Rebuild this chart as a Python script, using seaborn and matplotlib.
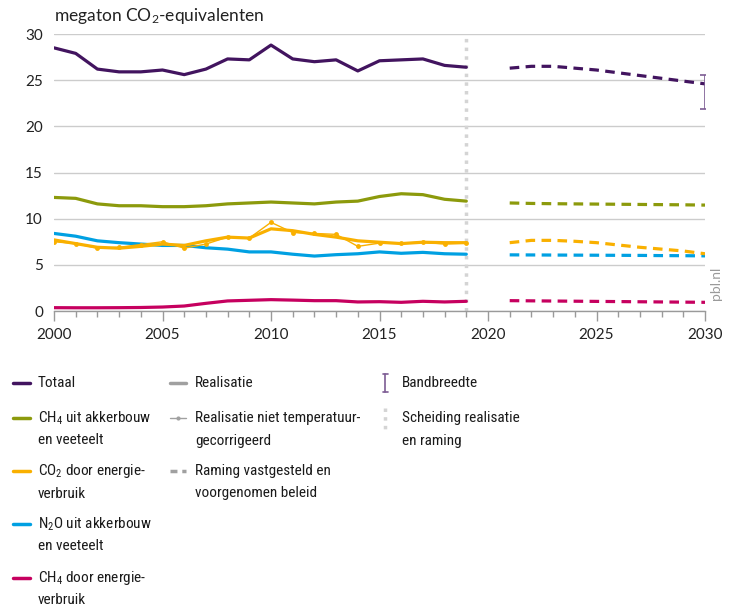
import matplotlib
matplotlib.use("Agg")
import matplotlib.pyplot as plt
import seaborn as sns
from matplotlib import font_manager
from matplotlib.lines import Line2D
from matplotlib.ticker import MultipleLocator

# ===============================
# Data (megaton CO2-equivalenten)
# ===============================
years_real = list(range(2000, 2020))
years_proj = list(range(2021, 2031))

totaal = [28.5, 27.9, 26.2, 25.9, 25.9, 26.1, 25.6, 26.2, 27.3, 27.2,
          28.8, 27.3, 27.0, 27.2, 26.0, 27.1, 27.2, 27.3, 26.6, 26.4]
totaal_proj = [26.3, 26.5, 26.5, 26.3, 26.1, 25.8, 25.5, 25.2, 24.9, 24.6]
band_low, band_high = 21.9, 25.6

ch4_akker = [12.3, 12.2, 11.6, 11.4, 11.4, 11.3, 11.3, 11.4, 11.6, 11.7,
             11.8, 11.7, 11.6, 11.8, 11.9, 12.4, 12.7, 12.6, 12.1, 11.9]
ch4_akker_proj = [11.7, 11.65, 11.62, 11.6, 11.58, 11.56, 11.54, 11.52, 11.5, 11.47]

co2_energie = [7.7, 7.3, 6.9, 6.8, 7.0, 7.25, 7.1, 7.6, 8.0, 7.9,
               8.9, 8.7, 8.3, 8.0, 7.6, 7.45, 7.3, 7.45, 7.4, 7.4]
co2_energie_niet_gecorr = [7.5, 7.3, 6.8, 6.9, 7.2, 7.5, 6.8, 7.25, 8.0, 7.9,
                           9.6, 8.5, 8.4, 8.3, 7.0, 7.35, 7.35, 7.45, 7.25, 7.35]
co2_energie_proj = [7.4, 7.65, 7.65, 7.55, 7.4, 7.15, 6.9, 6.7, 6.5, 6.2]

n2o_akker = [8.4, 8.1, 7.6, 7.4, 7.25, 7.1, 7.1, 6.85, 6.7, 6.4,
             6.4, 6.15, 5.95, 6.1, 6.2, 6.4, 6.25, 6.35, 6.2, 6.15]
n2o_akker_proj = [6.08, 6.07, 6.06, 6.05, 6.04, 6.03, 6.02, 6.0, 5.99, 5.97]

ch4_energie = [0.36, 0.35, 0.35, 0.36, 0.38, 0.43, 0.54, 0.83, 1.09, 1.16,
               1.23, 1.18, 1.12, 1.12, 0.98, 1.01, 0.94, 1.05, 0.98, 1.05]
ch4_energie_proj = [1.12, 1.1, 1.08, 1.06, 1.04, 1.02, 1.0, 0.98, 0.96, 0.94]

# colours
c_tot = "#42145f"
c_green = "#8c9a0c"
c_orange = "#f9b000"
c_blue = "#00a0e2"
c_magenta = "#c6005f"
c_band = "#7d5c94"
c_grey = "#a0a0a0"
c_sep = "#d4d4d4"

# ===============================
# Style
# ===============================
sns.set_theme(style="white")
names = {f.name for f in font_manager.fontManager.ttflist}
txt_font = "Lato"
for cand in ["Roboto Condensed", "Liberation Sans Narrow", "Open Sans Condensed"]:
    if cand in names:
        txt_font = cand
        break
plt.rcParams["font.family"] = [txt_font, "DejaVu Sans"]
plt.rcParams["mathtext.default"] = "regular"

W, H = 732, 606
fig = plt.figure(figsize=(W / 100, H / 100), dpi=100)
ax = fig.add_axes([54 / W, 1 - 311 / H, (705 - 54) / W, (311 - 34) / H])

lw = 2.3
series = [
    (totaal, totaal_proj, c_tot),
    (ch4_akker, ch4_akker_proj, c_green),
    (n2o_akker, n2o_akker_proj, c_blue),
    (co2_energie, co2_energie_proj, c_orange),
    (ch4_energie, ch4_energie_proj, c_magenta),
]
for real, proj, col in series:
    sns.lineplot(x=years_real, y=real, color=col, lw=lw, ax=ax, zorder=3)
    sns.lineplot(x=years_proj, y=proj, color=col, lw=lw, ax=ax, zorder=3,
                 linestyle=(0, (3, 2)))

sns.lineplot(x=years_real, y=co2_energie_niet_gecorr, color=c_orange, lw=1,
             marker="o", markersize=3.5, markeredgewidth=0, ax=ax, zorder=3)

ax.errorbar([2030], [totaal_proj[-1]],
            yerr=[[totaal_proj[-1] - band_low], [band_high - totaal_proj[-1]]],
            fmt="none", ecolor=c_band, elinewidth=1.2, capsize=3.6, capthick=1.2, zorder=4)

ax.axvline(2019, color=c_sep, lw=2.5, ls=(0, (1, 1.5)), zorder=2)

# axes
ax.set_xlim(2000, 2030)
ax.set_ylim(0, 30)
ax.set_yticks([0, 5, 10, 15, 20, 25, 30])
ax.set_xticks([2000, 2005, 2010, 2015, 2020, 2025, 2030])
ax.xaxis.set_minor_locator(MultipleLocator(1))
ax.grid(axis="y", color="#cccccc", lw=1)
ax.set_axisbelow(True)
for s in ["top", "right", "left"]:
    ax.spines[s].set_visible(False)
ax.spines["bottom"].set_color("#9a9a9a")
ax.spines["bottom"].set_linewidth(1)
ax.tick_params(axis="x", which="major", length=7, width=1, color="#9a9a9a",
               bottom=True, labelsize=11, pad=5, labelcolor="#222222")
ax.tick_params(axis="x", which="minor", length=4, width=1, color="#9a9a9a", bottom=True)
ax.tick_params(axis="y", length=0, labelsize=11, pad=8, labelcolor="#222222")
for lab in ax.get_xticklabels() + ax.get_yticklabels():
    lab.set_fontfamily(["Lato", "DejaVu Sans"])
ax.set_xlabel("")
ax.set_ylabel("")

fig.text(54 / W, 1 - 16 / H, "megaton CO$_2$-equivalenten", fontsize=12.5,
         color="#222222", va="center", ha="left", family=["Lato", "DejaVu Sans"])
fig.text(716 / W, 1 - 283 / H, "pbl.nl", rotation=90, fontsize=10,
         color="#9a9a9a", va="center", ha="center", family=["Lato", "DejaVu Sans"])

# ===============================
# Legend (drawn by hand, three columns)
# ===============================
# font size so that the widest label of column 2 is about 165 px wide
probe = fig.text(0, 0, "Realisatie niet temperatuur-", fontsize=12)
bb = probe.get_window_extent(renderer=fig.canvas.get_renderer())
leg_fs = min(13, 12 * 165 / bb.width)
probe.remove()


def px(x, y):
    return x / W, 1 - y / H


def leg_text(x, y, lines):
    for i, line in enumerate(lines):
        fx, fy = px(x, y + i * 22.5)
        fig.text(fx, fy, line, fontsize=leg_fs, color="#1a1a1a", va="center", ha="left")


def leg_line(x0, x1, y, **kw):
    (fx0, fy), (fx1, _) = px(x0, y), px(x1, y)
    fig.add_artist(Line2D([fx0, fx1], [fy, fy], transform=fig.transFigure, **kw))


def leg_vline(x, y0, y1, **kw):
    (fx, fy0), (_, fy1) = px(x, y0), px(x, y1)
    fig.add_artist(Line2D([fx, fx], [fy0, fy1], transform=fig.transFigure, **kw))


col1 = [
    (c_tot, ["Totaal"]),
    (c_green, ["CH$_4$ uit akkerbouw", "en veeteelt"]),
    (c_orange, ["CO$_2$ door energie-", "verbruik"]),
    (c_blue, ["N$_2$O uit akkerbouw", "en veeteelt"]),
    (c_magenta, ["CH$_4$ door energie-", "verbruik"]),
]
row_y = [383, 418, 471, 524, 578]
for (col, lines), y in zip(col1, row_y):
    leg_line(13, 30, y, color=col, lw=2.5)
    leg_text(38, y, lines)

leg_line(170, 186, 383, color=c_grey, lw=2.5)
leg_text(195, 383, ["Realisatie"])
leg_line(170, 186, 418, color=c_grey, lw=1)
fx, fy = px(178, 418)
fig.add_artist(Line2D([fx], [fy], transform=fig.transFigure, marker="o",
                      markersize=3, color=c_grey, markeredgewidth=0))
leg_text(195, 418, ["Realisatie niet temperatuur-", "gecorrigeerd"])
leg_line(170, 186, 471, color=c_grey, lw=2.5, ls=(0, (2, 1.4)))
leg_text(195, 471, ["Raming vastgesteld en", "voorgenomen beleid"])

# bandbreedte: small error bar
leg_vline(385, 374, 392, color=c_band, lw=1.2)
leg_line(382.5, 387.5, 374, color=c_band, lw=1.2)
leg_line(382.5, 387.5, 392, color=c_band, lw=1.2)
leg_text(402, 383, ["Bandbreedte"])
leg_vline(385, 408, 430, color=c_sep, lw=2.5, ls=(0, (1, 1.5)))
leg_text(402, 418, ["Scheiding realisatie", "en raming"])

fig.savefig("out.png", dpi=100)
